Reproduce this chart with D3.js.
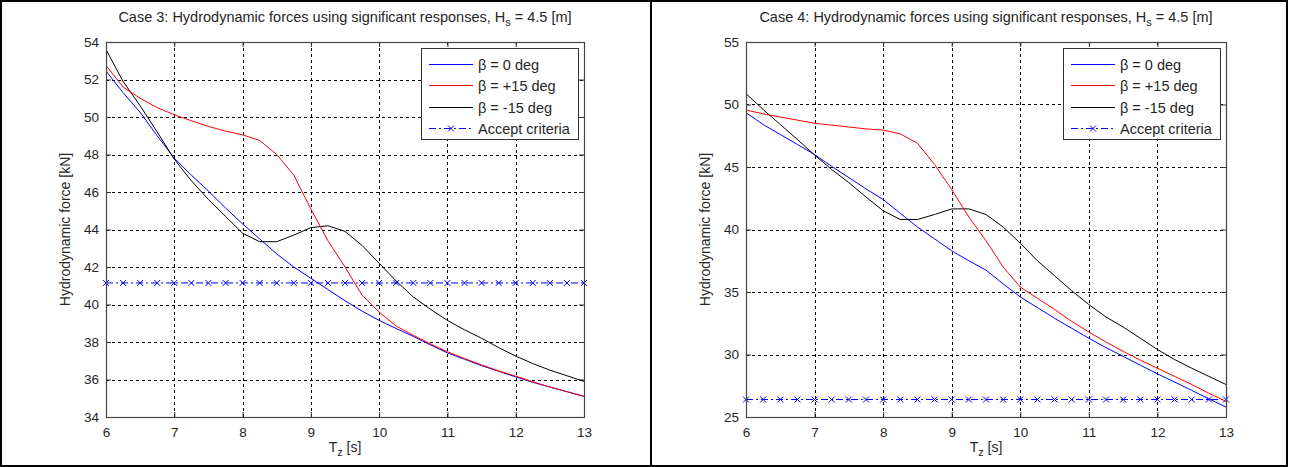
<!DOCTYPE html>
<html><head><meta charset="utf-8">
<script src="https://cdn.jsdelivr.net/npm/d3@7/dist/d3.min.js"></script>
<style>
html,body{margin:0;padding:0;background:#fff;}
svg{display:block;font-family:"Liberation Sans",Arial,sans-serif;}
</style></head>
<body>
<svg id="chart" width="1289" height="467"></svg>
<script>
// ---- data ----
const tz = [6,6.25,6.5,6.75,7,7.25,7.5,7.75,8,8.25,8.5,8.75,9,9.25,9.5,9.75,10,10.25,10.5,10.75,11,11.25,11.5,11.75,12,12.25,12.5,12.75,13];
const xTicks = [6,7,8,9,10,11,12,13];

const case3Beta0   = [52.45,51.3,50.25,49.0,47.8,46.9,46.05,45.15,44.3,43.5,42.7,42.0,41.4,40.8,40.2,39.65,39.15,38.72,38.3,37.85,37.42,37.08,36.74,36.44,36.14,35.85,35.6,35.35,35.1];
const case3BetaP15 = [52.75,51.6,51.0,50.5,50.12,49.8,49.5,49.25,49.05,48.75,48.0,46.9,45.1,43.4,42.0,40.5,39.6,38.85,38.36,37.9,37.48,37.12,36.78,36.46,36.18,35.88,35.6,35.35,35.1];
const case3BetaM15 = [53.6,51.9,50.6,49.2,47.75,46.6,45.6,44.7,43.8,43.35,43.35,43.7,44.1,44.2,43.9,43.15,42.2,41.25,40.4,39.75,39.15,38.65,38.2,37.7,37.25,36.85,36.5,36.2,35.9];
const case3Accept  = [41.15,41.15,41.15,41.15,41.15,41.15,41.15,41.15,41.15,41.15,41.15,41.15,41.15,41.15,41.15,41.15,41.15,41.15,41.15,41.15,41.15,41.15,41.15,41.15,41.15,41.15,41.15,41.15,41.15];
const case3YTicks  = [34,36,38,40,42,44,46,48,50,52,54];

const case4Beta0   = [49.35,48.4,47.6,46.8,46.0,45.05,44.15,43.25,42.4,41.3,40.2,39.25,38.3,37.5,36.75,35.65,34.6,33.75,32.9,32.1,31.3,30.55,29.85,29.15,28.45,27.8,27.13,26.45,25.8];
const case4BetaP15 = [49.56,49.25,49.0,48.75,48.5,48.35,48.2,48.05,47.95,47.65,46.9,45.2,43.2,41.0,39.1,37.0,35.4,34.5,33.6,32.65,31.8,31.0,30.25,29.55,28.9,28.25,27.6,26.9,26.25];
const case4BetaM15 = [50.87,49.6,48.4,47.2,45.96,44.8,43.75,42.6,41.5,40.8,40.8,41.2,41.65,41.65,41.2,40.2,38.9,37.5,36.3,35.1,34.0,33.0,32.2,31.3,30.4,29.6,28.9,28.25,27.6];
const case4Accept  = [26.4,26.4,26.4,26.4,26.4,26.4,26.4,26.4,26.4,26.4,26.4,26.4,26.4,26.4,26.4,26.4,26.4,26.4,26.4,26.4,26.4,26.4,26.4,26.4,26.4,26.4,26.4,26.4,26.4];
const case4YTicks  = [25,30,35,40,45,50,55];

const legendLabels = ["\u03b2 = 0 deg","\u03b2 = +15 deg","\u03b2 = -15 deg","Accept criteria"];

// ---- drawing ----
const svg = d3.select("#chart");
const textColor = "#262626";
const FStick = "13.5px", FStitle = "14.5px", FSlab = "14px", FSleg = "14.5px", FSsub = "11px";

function panel(cfg){
  const g = svg.append("g");
  const x = d3.scaleLinear().domain([6,13]).range([cfg.x0, cfg.x1]);
  const y = d3.scaleLinear().domain(cfg.yDomain).range([cfg.y1, cfg.y0]);
  const cx = (cfg.x0+cfg.x1)/2;

  // grid
  g.append("g").selectAll("line").data(xTicks.slice(1,-1)).join("line")
    .attr("x1",d=>Math.round(x(d))+0.5).attr("x2",d=>Math.round(x(d))+0.5).attr("y1",cfg.y0).attr("y2",cfg.y1)
    .attr("stroke","#000").attr("stroke-width",1).attr("stroke-dasharray","3,3");
  g.append("g").selectAll("line").data(cfg.yTicks.slice(1,-1)).join("line")
    .attr("y1",d=>Math.round(y(d))+0.5).attr("y2",d=>Math.round(y(d))+0.5).attr("x1",cfg.x0).attr("x2",cfg.x1)
    .attr("stroke","#000").attr("stroke-width",1).attr("stroke-dasharray","3,3");

  // axes with inward ticks
  const axB = d3.axisBottom(x).tickValues(xTicks).tickSize(-5).tickPadding(10).tickFormat(d3.format("d"));
  const axT = d3.axisTop(x).tickValues(xTicks).tickSize(-5).tickFormat("");
  const axL = d3.axisLeft(y).tickValues(cfg.yTicks).tickSize(-5).tickPadding(7).tickFormat(d3.format("d"));
  const axR = d3.axisRight(y).tickValues(cfg.yTicks).tickSize(-5).tickFormat("");
  const style = s => { s.select(".domain").remove(); s.selectAll("line").attr("stroke","#333");
    s.selectAll("text").attr("fill",textColor).style("font-size",FStick).style("font-family","'Liberation Sans',Arial,sans-serif"); };
  g.append("g").attr("transform",`translate(0,${cfg.y1})`).call(axB).call(style);
  g.append("g").attr("transform",`translate(0,${cfg.y0})`).call(axT).call(style);
  g.append("g").attr("transform",`translate(${cfg.x0},0)`).call(axL).call(style);
  g.append("g").attr("transform",`translate(${cfg.x1},0)`).call(axR).call(style);

  // series
  const line = d3.line().x((d,i)=>x(tz[i])).y(d=>y(d));
  const clip = "clip"+cfg.id;
  svg.append("clipPath").attr("id",clip).append("rect")
    .attr("x",cfg.x0).attr("y",cfg.y0).attr("width",cfg.x1-cfg.x0).attr("height",cfg.y1-cfg.y0);
  const series = g.append("g");
  series.append("path").datum(cfg.accept).attr("d",line).attr("fill","none")
    .attr("stroke","#0000ff").attr("stroke-width",1).attr("stroke-dasharray","7,3,2,3");
  const mk = series.append("g");
  cfg.accept.forEach((v,i)=>{
    const px = x(tz[i]), py = y(v);
    mk.append("path").attr("d",`M${px-3},${py-3}L${px+3},${py+3}M${px-3},${py+3}L${px+3},${py-3}`)
      .attr("stroke","#0000ff").attr("stroke-width",1).attr("fill","none");
  });
  [[cfg.b0,"#0000ff"],[cfg.m15,"#000000"],[cfg.p15,"#ff0000"]].forEach(([d,c])=>{
    series.append("path").datum(d).attr("d",line).attr("fill","none")
      .attr("stroke",c).attr("stroke-width",1).attr("clip-path",`url(#${clip})`);
  });

  // box
  g.append("rect").attr("x",cfg.x0+0.5).attr("y",cfg.y0+0.5).attr("width",cfg.x1-cfg.x0).attr("height",cfg.y1-cfg.y0)
    .attr("fill","none").attr("stroke","#444").attr("stroke-width",1.2);

  // title
  const t = g.append("text").attr("x",cx).attr("y",22).attr("text-anchor","middle")
    .attr("fill",textColor).style("font-size",FStitle);
  t.append("tspan").text(cfg.title);
  t.append("tspan").attr("dy",4).style("font-size",FSsub).text("s");
  t.append("tspan").attr("dy",-4).text(" = 4.5 [m]");

  // x label
  const xl = g.append("text").attr("x",cx).attr("y",452).attr("text-anchor","middle")
    .attr("fill",textColor).style("font-size",FSlab);
  xl.append("tspan").text("T");
  xl.append("tspan").attr("dy",4).style("font-size",FSsub).text("z");
  xl.append("tspan").attr("dy",-4).text(" [s]");

  // y label
  g.append("text").attr("transform",`translate(${cfg.ylabX},${(cfg.y0+cfg.y1)/2}) rotate(-90)`)
    .attr("text-anchor","middle").attr("fill",textColor).style("font-size",FSlab)
    .text("Hydrodynamic force [kN]");

  // legend
  const lg = g.append("g");
  const lx = cfg.legX, ly = 48, lw = 157, lh = 91;
  lg.append("rect").attr("x",lx+0.5).attr("y",ly+0.5).attr("width",lw).attr("height",lh)
    .attr("fill","#fff").attr("stroke","#333").attr("stroke-width",1);
  const rows = [63.5,84.5,106.5,127.5];
  const cols = ["#0000ff","#ff0000","#000000","#0000ff"];
  legendLabels.forEach((lab,i)=>{
    const yy = Math.round(ly + rows[i]-48)+0.5;
    lg.append("line").attr("x1",lx+8).attr("x2",lx+52).attr("y1",yy).attr("y2",yy)
      .attr("stroke",cols[i]).attr("stroke-width",1)
      .attr("stroke-dasharray", i===3 ? "7,3,2,3" : null);
    if(i===3){
      const mx = lx+30;
      lg.append("path").attr("d",`M${mx-3},${yy-3}L${mx+3},${yy+3}M${mx-3},${yy+3}L${mx+3},${yy-3}`)
        .attr("stroke","#0000ff").attr("stroke-width",1);
    }
    lg.append("text").attr("x",lx+57).attr("y",yy+5).attr("fill",textColor)
      .style("font-size",FSleg).text(lab);
  });
}

panel({id:3, x0:106, x1:584, y0:42, y1:417, yDomain:[34,54], yTicks:case3YTicks,
  b0:case3Beta0, p15:case3BetaP15, m15:case3BetaM15, accept:case3Accept,
  title:"Case 3: Hydrodynamic forces using significant responses, H", ylabX:70, legX:421});
panel({id:4, x0:746, x1:1226, y0:42, y1:417, yDomain:[25,55], yTicks:case4YTicks,
  b0:case4Beta0, p15:case4BetaP15, m15:case4BetaM15, accept:case4Accept,
  title:"Case 4: Hydrodynamic forces using significant responses, H", ylabX:710, legX:1063});

// outer frame
svg.append("rect").attr("x",1).attr("y",1).attr("width",1286).attr("height",465)
  .attr("fill","none").attr("stroke","#000").attr("stroke-width",2);
svg.append("line").attr("x1",651).attr("x2",651).attr("y1",0).attr("y2",467)
  .attr("stroke","#000").attr("stroke-width",2);
</script>
</body></html>
